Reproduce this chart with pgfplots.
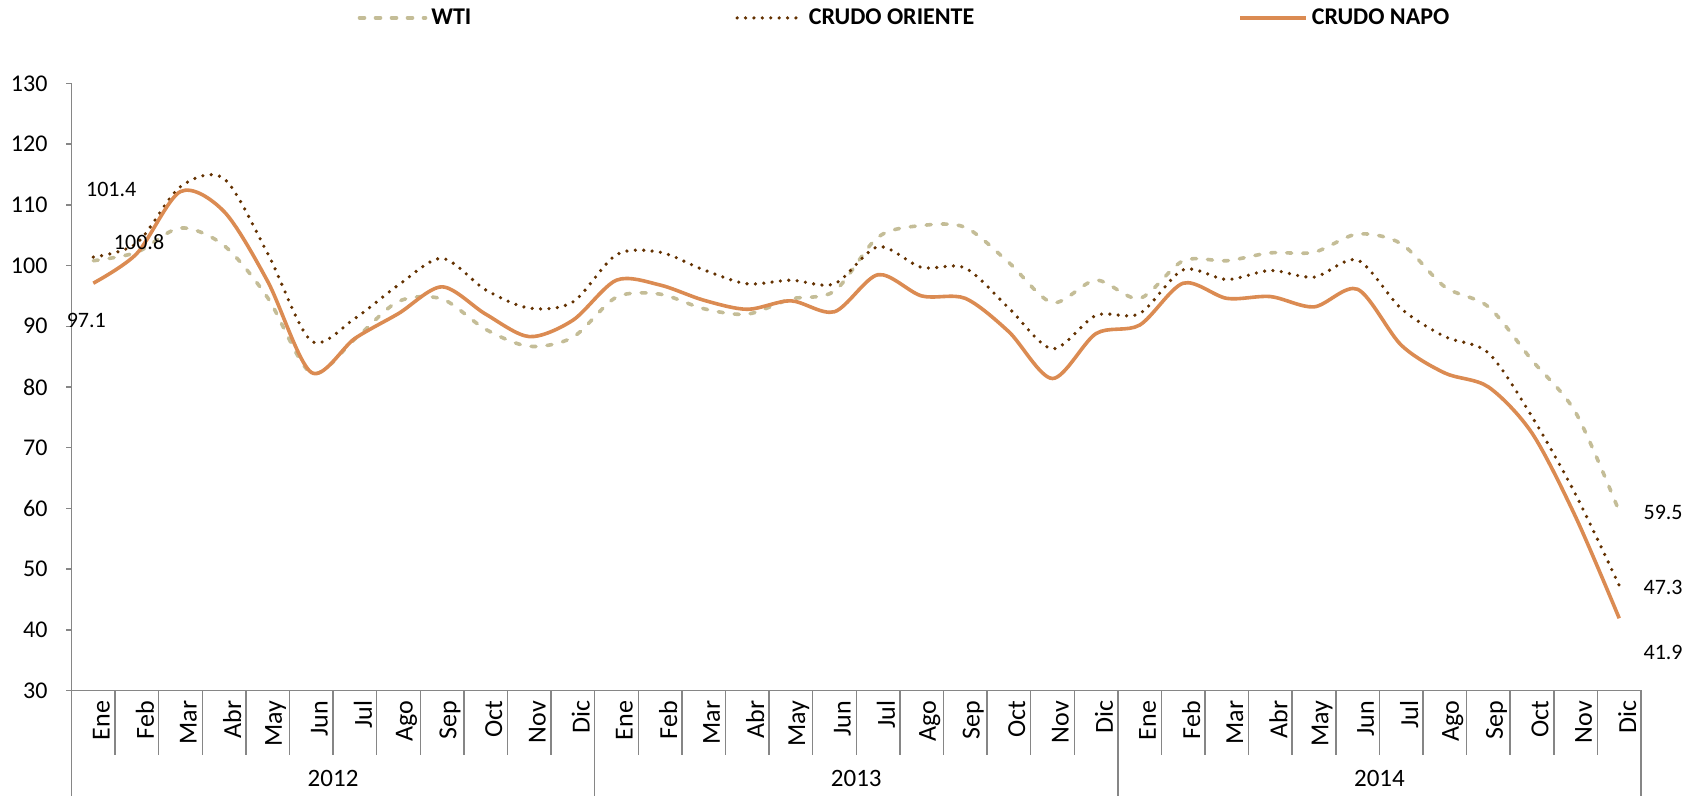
\documentclass[border=0pt]{standalone}
\usepackage{fontspec}
\setmainfont{Carlito}
\usepackage{pgfplots}
\pgfplotsset{compat=1.18}

\definecolor{wti}{RGB}{196,189,151}
\definecolor{oriente}{RGB}{99,49,0}
\definecolor{napo}{RGB}{219,139,82}
\definecolor{axisgray}{RGB}{134,134,134}

\begin{document}
\begin{tikzpicture}
\path[use as bounding box] (-35.75pt,-52.75pt) rectangle (814.25pt,345.25pt);
\begin{axis}[
  at={(0,0)}, anchor=south west,
  scale only axis,
  width=784.75pt, height=303.5pt,
  xmin=-0.5, xmax=35.5,
  ymin=30, ymax=130,
  ytick={30,40,...,130},
  xtick={0,...,35},
  xticklabels={Ene,Feb,Mar,Abr,May,Jun,Jul,Ago,Sep,Oct,Nov,Dic,
               Ene,Feb,Mar,Abr,May,Jun,Jul,Ago,Sep,Oct,Nov,Dic,
               Ene,Feb,Mar,Abr,May,Jun,Jul,Ago,Sep,Oct,Nov,Dic},
  axis lines*=left,
  axis line style={axisgray, line width=0.75pt},
  tick align=outside,
  major tick length=2.5pt,
  xtick style={draw=none},
  ytick style={axisgray, line width=0.75pt},
  tick label style={font=\fontsize{12}{14}\selectfont},
  /pgf/number format/assume math mode=true,
  xticklabel style={rotate=90, anchor=east, inner sep=0pt, yshift=-4pt, xshift=-2.5pt,
    font=\fontsize{13}{15}\selectfont},
  yticklabel style={xshift=-6pt},
  clip=false,
  legend columns=3,
  legend style={at={(0.5314,1.108)}, anchor=center, draw=none, fill=none,
    font=\bfseries\fontsize{12}{14}\selectfont,
    /tikz/every even column/.append style={column sep=130pt}},
  legend image code/.code={\draw[#1] (0pt,0pt) -- (33pt,0pt);},
]
\addplot[wti, line width=1.8pt, line cap=round, dash pattern=on 2.5pt off 5.5pt, smooth] coordinates {
(0,100.8) (1,102.2) (2,106.2) (3,103.3) (4,94.7) (5,82.3) (6,87.9) (7,94.1) (8,94.5) (9,89.5) (10,86.7) (11,88.2)
(12,94.8) (13,95.3) (14,92.9) (15,92.0) (16,94.5) (17,95.8) (18,104.7) (19,106.6) (20,106.3) (21,100.5) (22,93.9) (23,97.6)
(24,94.6) (25,100.8) (26,100.8) (27,102.1) (28,102.2) (29,105.2) (30,103.6) (31,96.5) (32,93.2) (33,84.4) (34,75.8) (35,59.5)
};
\addlegendentry{WTI}
\addplot[oriente, line width=1.8pt, line cap=round, dash pattern=on 0pt off 4.2pt, smooth] coordinates {
(0,101.4) (1,103.7) (2,113.0) (3,114.3) (4,102.0) (5,87.6) (6,91.3) (7,96.8) (8,101.2) (9,96.0) (10,93.0) (11,94.0)
(12,101.8) (13,102.2) (14,99.3) (15,97.0) (16,97.6) (17,97.0) (18,103.1) (19,99.7) (20,99.6) (21,93.0) (22,86.3) (23,91.8)
(24,92.1) (25,99.3) (26,97.7) (27,99.2) (28,98.1) (29,100.9) (30,92.9) (31,88.3) (32,85.6) (33,75.1) (34,62.3) (35,47.3)
};
\addlegendentry{CRUDO ORIENTE}
\addplot[napo, line width=1.8pt, smooth] coordinates {
(0,97.1) (1,102.0) (2,112.2) (3,108.9) (4,97.4) (5,82.4) (6,88.0) (7,92.1) (8,96.5) (9,92.0) (10,88.3) (11,91.0)
(12,97.6) (13,96.8) (14,94.3) (15,92.8) (16,94.2) (17,92.4) (18,98.5) (19,95.0) (20,94.6) (21,89.1) (22,81.4) (23,88.8)
(24,90.2) (25,97.1) (26,94.6) (27,94.9) (28,93.2) (29,96.1) (30,86.9) (31,82.3) (32,80.0) (33,72.4) (34,58.6) (35,41.9)
};
\addlegendentry{CRUDO NAPO}

% month separators
\pgfplotsinvokeforeach{0.5,1.5,...,34.5}{
  \draw[axisgray, line width=0.75pt] (axis cs:#1,30) -- ([yshift=-32pt]axis cs:#1,30);
}
% year separators and labels
\pgfplotsinvokeforeach{-0.5,11.5,23.5,35.5}{
  \draw[axisgray, line width=0.75pt] (axis cs:#1,30) -- ([yshift=-52.75pt]axis cs:#1,30);
}
\node[font=\fontsize{12.5}{14}\selectfont] at ([yshift=-43.8pt]axis cs:5.5,30) {2012};
\node[font=\fontsize{12.5}{14}\selectfont] at ([yshift=-43.8pt]axis cs:17.5,30) {2013};
\node[font=\fontsize{12.5}{14}\selectfont] at ([yshift=-43.8pt]axis cs:29.5,30) {2014};

% data labels
\node[font=\fontsize{11}{13}\selectfont] at (axis cs:0.41,112.5) {101.4};
\node[font=\fontsize{11}{13}\selectfont] at (axis cs:1.05,103.9) {100.8};
\node[font=\fontsize{11}{13}\selectfont] at (axis cs:-0.16,90.9) {97.1};
\node[font=\fontsize{11}{13}\selectfont, anchor=west, inner sep=0pt] at (axis cs:35.55,59.4) {59.5};
\node[font=\fontsize{11}{13}\selectfont, anchor=west, inner sep=0pt] at (axis cs:35.55,47.05) {47.3};
\node[font=\fontsize{11}{13}\selectfont, anchor=west, inner sep=0pt] at (axis cs:35.55,36.2) {41.9};
\end{axis}
\end{tikzpicture}
\end{document}
